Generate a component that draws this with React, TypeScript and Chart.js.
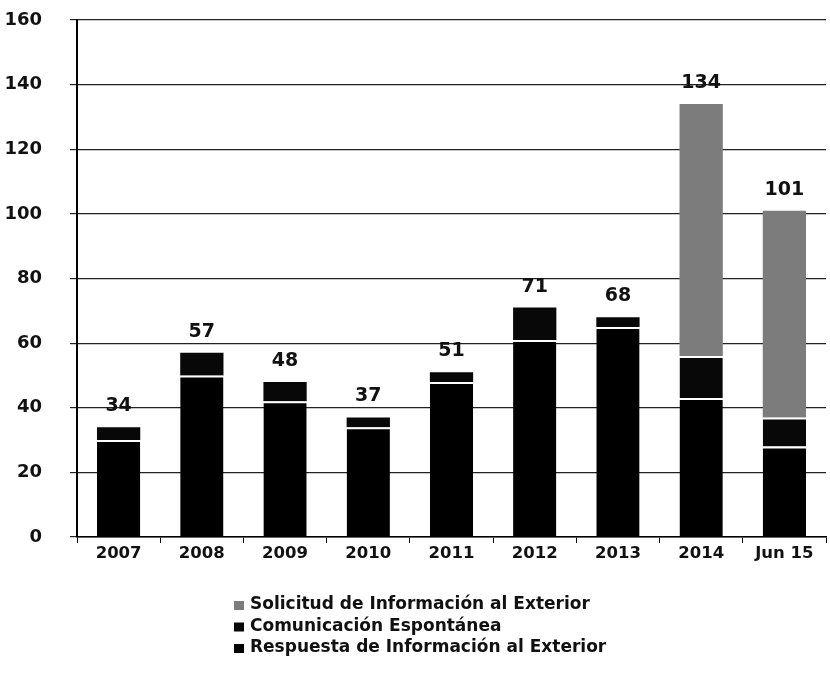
import React, { useEffect, useRef } from "react";
import { Chart, registerables } from "chart.js";

Chart.register(...registerables);

const categories = ["2007", "2008", "2009", "2010", "2011", "2012", "2013", "2014", "Jun 15"];
const respuesta = [30, 50, 42, 34, 48, 61, 65, 43, 28];
const comunicacion = [4, 7, 6, 3, 3, 10, 3, 13, 9];
const solicitud = [0, 0, 0, 0, 0, 0, 0, 78, 64];
const yTicks = [0, 20, 40, 60, 80, 100, 120, 140, 160];

const seriesNames = [
  "Respuesta de Información al Exterior",
  "Comunicación Espontánea",
  "Solicitud de Información al Exterior",
];
const seriesColors = ["#000000", "#080808", "#7c7c7c"];

const FONT = "'DejaVu Sans', Verdana, sans-serif";

const totalsPlugin = {
  id: "totals",
  afterDatasetsDraw(chart: any) {
    const ctx = chart.ctx;
    const yScale = chart.scales.y;
    const meta0 = chart.getDatasetMeta(0);
    ctx.save();
    ctx.font = `bold 19px ${FONT}`;
    ctx.fillStyle = "#111";
    ctx.textAlign = "center";
    ctx.textBaseline = "alphabetic";
    categories.forEach((_, i) => {
      const total = chart.data.datasets.reduce((s: number, d: any) => s + (d.data[i] || 0), 0);
      const x = meta0.data[i].x;
      const y = yScale.getPixelForValue(total);
      ctx.fillText(String(total), x, y - 16);
    });
    ctx.restore();
  },
};

const legendPlugin = {
  id: "vlegend",
  afterDraw(chart: any) {
    const ctx = chart.ctx;
    const area = chart.chartArea;
    const ds = chart.data.datasets;
    const startY = area.bottom + 68;
    const lineH = 21.5;
    const markerX = 234;
    const textX = 250;
    ctx.save();
    ctx.font = `bold 17px ${FONT}`;
    ctx.textBaseline = "middle";
    ctx.textAlign = "left";
    for (let k = ds.length - 1, row = 0; k >= 0; k--, row++) {
      const y = startY + row * lineH;
      ctx.fillStyle = ds[k].backgroundColor;
      ctx.fillRect(markerX, y - 4, 10, 9);
      ctx.fillStyle = "#111";
      ctx.fillText(ds[k].label, textX, y);
    }
    ctx.restore();
  },
};

export default function App() {
  const ref = useRef<HTMLCanvasElement>(null);

  useEffect(() => {
    document.body.style.margin = "0";
    const data = [respuesta, comunicacion, solicitud];
    const chart = new Chart(ref.current!, {
      type: "bar",
      data: {
        labels: categories,
        datasets: data.map((vals, di) => ({
          label: seriesNames[di],
          data: vals,
          backgroundColor: seriesColors[di],
          borderColor: "#ffffff",
          borderSkipped: false,
          borderWidth: (c: any) => {
            const i = c.dataIndex;
            const above = data.slice(di + 1).some((arr) => arr[i] > 0);
            return { top: above ? 2 : 0, bottom: 0, left: 0, right: 0 };
          },
          barPercentage: 0.52,
          categoryPercentage: 1,
        })),
      },
      options: {
        animation: false,
        responsive: true,
        maintainAspectRatio: false,
        layout: { padding: { top: 20, right: 4, left: 0, bottom: 0 } },
        plugins: {
          legend: { display: false },
          tooltip: { enabled: false },
        },
        scales: {
          x: {
            stacked: true,
            afterFit: (s: any) => {
              s.height = 156;
            },
            grid: {
              display: true,
              drawOnChartArea: false,
              offset: true,
              tickLength: 6,
              color: "#000",
            },
            border: { color: "#000", width: 1.5 },
            ticks: {
              color: "#111",
              padding: 1,
              font: { family: FONT, size: 16.5, weight: "bold" },
            },
          },
          y: {
            stacked: true,
            min: 0,
            max: 160,
            afterFit: (s: any) => {
              s.width = 77;
              s.paddingTop = 10;
              s.paddingBottom = 10;
            },
            afterBuildTicks: (s: any) => {
              s.ticks = yTicks.map((v) => ({ value: v }));
            },
            grid: { color: "#222", lineWidth: 1.2, tickLength: 7 },
            border: { color: "#000", width: 2 },
            ticks: {
              color: "#111",
              padding: 28,
              font: { family: FONT, size: 18, weight: "bold" },
            },
          },
        },
      },
      plugins: [totalsPlugin, legendPlugin],
    });
    return () => chart.destroy();
  }, []);

  return (
    <div style={{ width: 830, height: 693, position: "relative" }}>
      <canvas ref={ref} />
    </div>
  );
}
